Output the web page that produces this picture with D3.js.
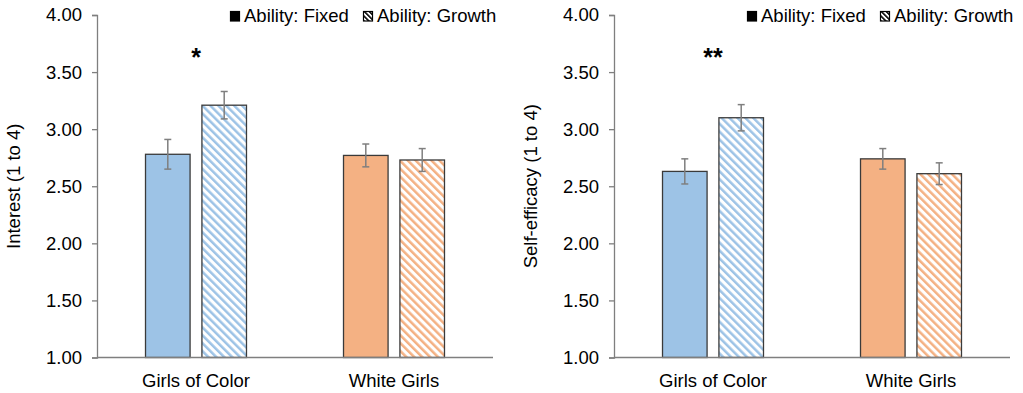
<!DOCTYPE html>
<html>
<head>
<meta charset="utf-8">
<script src="https://cdn.jsdelivr.net/npm/d3@7"></script>
<style>
  body { margin: 0; background: #fff; }
  svg { display: block; font-family: "Liberation Sans", Arial, sans-serif; }
</style>
</head>
<body>
<svg id="chart" width="1023" height="393"></svg>
<script>
"use strict";

// categories and series
var categories = ["Girls of Color", "White Girls"];
var seriesNames = ["Ability: Fixed", "Ability: Growth"];
var yTicks = [1.00, 1.50, 2.00, 2.50, 3.00, 3.50, 4.00];

// interest panel
var interestFixed = [2.78, 2.77];
var interestGrowth = [3.21, 2.73];
var interestFixedErr = [0.13, 0.10];
var interestGrowthErr = [0.12, 0.10];
var interestStars = ["*", ""];

// self-efficacy panel
var efficacyFixed = [2.63, 2.74];
var efficacyGrowth = [3.10, 2.61];
var efficacyFixedErr = [0.11, 0.09];
var efficacyGrowthErr = [0.115, 0.095];
var efficacyStars = ["**", ""];

var catColors = ["#9dc3e6", "#f4b183"];
var fontSize = 18.5;

var svg = d3.select("#chart");
var defs = svg.append("defs");

// hatch patterns ("\" direction), one per category colour, plus black for the legend
function makeHatch(id, color, size, width) {
    var p = defs.append("pattern")
        .attr("id", id)
        .attr("patternUnits", "userSpaceOnUse")
        .attr("width", size).attr("height", size)
        .attr("patternTransform", "rotate(-45)");
    p.append("rect").attr("width", size).attr("height", size).attr("fill", "#fff");
    p.append("rect").attr("x", 0).attr("y", 0)
        .attr("width", width).attr("height", size).attr("fill", color);
}
makeHatch("hatch0", catColors[0], 5.6, 2.5);
makeHatch("hatch1", catColors[1], 5.6, 2.5);
makeHatch("hatchK", "#000", 3.5, 1.6);

var plotTop = 15, plotBottom = 357.5;

function drawPanel(left, right, title, fixed, growth, fixedErr, growthErr, stars) {
    var g = svg.append("g");

    var y = d3.scaleLinear().domain([1, 4]).range([plotBottom, plotTop]);
    var x0 = d3.scaleBand().domain(categories).range([left, right])
        .paddingInner(0.49).paddingOuter(0.245);
    var x1 = d3.scaleBand().domain(seriesNames).range([0, x0.bandwidth()])
        .paddingInner(0.21);

    var rows = [];
    categories.forEach(function(c, i) {
        rows.push({cat: c, ci: i, s: seriesNames[0], v: fixed[i], e: fixedErr[i], hatch: false});
        rows.push({cat: c, ci: i, s: seriesNames[1], v: growth[i], e: growthErr[i], hatch: true});
    });

    // y axis
    var yAxis = d3.axisLeft(y).tickValues(yTicks).tickFormat(d3.format(".2f"))
        .tickSize(5).tickSizeOuter(5);
    var ya = g.append("g").attr("transform", "translate(" + left + ",0)").call(yAxis);
    ya.select(".domain").attr("stroke", "#7f7f7f").attr("stroke-width", 1.3);
    ya.selectAll(".tick line").attr("stroke", "#7f7f7f").attr("stroke-width", 1.3);
    ya.selectAll(".tick text").attr("font-size", fontSize).attr("fill", "#000")
        .attr("x", -15).attr("font-family", "Liberation Sans, Arial, sans-serif");

    // bars
    g.selectAll("rect.bar").data(rows).enter().append("rect")
        .attr("class", "bar")
        .attr("x", function(d) { return x0(d.cat) + x1(d.s); })
        .attr("y", function(d) { return y(d.v); })
        .attr("width", x1.bandwidth())
        .attr("height", function(d) { return y(1) - y(d.v); })
        .attr("fill", function(d) { return d.hatch ? "url(#hatch" + d.ci + ")" : catColors[d.ci]; })
        .attr("stroke", "#3a3a3a")
        .attr("stroke-width", 1.3);

    // x axis line
    g.append("line")
        .attr("x1", left).attr("x2", right)
        .attr("y1", y(1)).attr("y2", y(1))
        .attr("stroke", "#7f7f7f").attr("stroke-width", 1.3);

    // error bars
    var eb = g.selectAll("g.err").data(rows).enter().append("g").attr("class", "err");
    var cx = function(d) { return x0(d.cat) + x1(d.s) + x1.bandwidth() / 2; };
    eb.append("line")
        .attr("x1", cx).attr("x2", cx)
        .attr("y1", function(d) { return y(d.v + d.e); })
        .attr("y2", function(d) { return y(d.v - d.e); });
    eb.append("line")
        .attr("x1", function(d) { return cx(d) - 3.5; }).attr("x2", function(d) { return cx(d) + 3.5; })
        .attr("y1", function(d) { return y(d.v + d.e); })
        .attr("y2", function(d) { return y(d.v + d.e); });
    eb.append("line")
        .attr("x1", function(d) { return cx(d) - 3.5; }).attr("x2", function(d) { return cx(d) + 3.5; })
        .attr("y1", function(d) { return y(d.v - d.e); })
        .attr("y2", function(d) { return y(d.v - d.e); });
    eb.selectAll("line").attr("stroke", "#7f7f7f").attr("stroke-width", 1.5);

    // category labels
    g.selectAll("text.cat").data(categories).enter().append("text")
        .attr("class", "cat")
        .attr("x", function(d) { return x0(d) + x0.bandwidth() / 2; })
        .attr("y", 387)
        .attr("text-anchor", "middle")
        .attr("font-size", fontSize)
        .text(function(d) { return d; });

    // significance stars
    g.selectAll("text.star").data(stars).enter().append("text")
        .attr("class", "star")
        .attr("x", function(d, i) { return x0(categories[i]) + x0.bandwidth() / 2; })
        .attr("y", y(3.55))
        .attr("text-anchor", "middle")
        .attr("font-size", 25)
        .attr("font-weight", "bold")
        .text(function(d) { return d; });

    // y axis title
    g.append("text")
        .attr("transform", "translate(" + (left - 77) + "," + ((plotTop + plotBottom) / 2) + ") rotate(-90)")
        .attr("text-anchor", "middle")
        .attr("font-size", fontSize)
        .text(title);

    // legend
    var lg = g.append("g").attr("transform", "translate(" + (left + 133) + ",12)");
    var offsets = [0, 133];
    seriesNames.forEach(function(s, i) {
        lg.append("rect")
            .attr("x", offsets[i] + 0.5).attr("y", -0.5)
            .attr("width", 9).attr("height", 9.5)
            .attr("fill", i === 0 ? "#000" : "url(#hatchK)")
            .attr("stroke", "#000").attr("stroke-width", 1.2);
        lg.append("text")
            .attr("x", offsets[i] + 14).attr("y", 9.5)
            .attr("font-size", fontSize)
            .text(s);
    });
}

drawPanel(97, 493, "Interest (1 to 4)",
    interestFixed, interestGrowth, interestFixedErr, interestGrowthErr, interestStars);
drawPanel(614, 1010, "Self-efficacy (1 to 4)",
    efficacyFixed, efficacyGrowth, efficacyFixedErr, efficacyGrowthErr, efficacyStars);
</script>
</body>
</html>
